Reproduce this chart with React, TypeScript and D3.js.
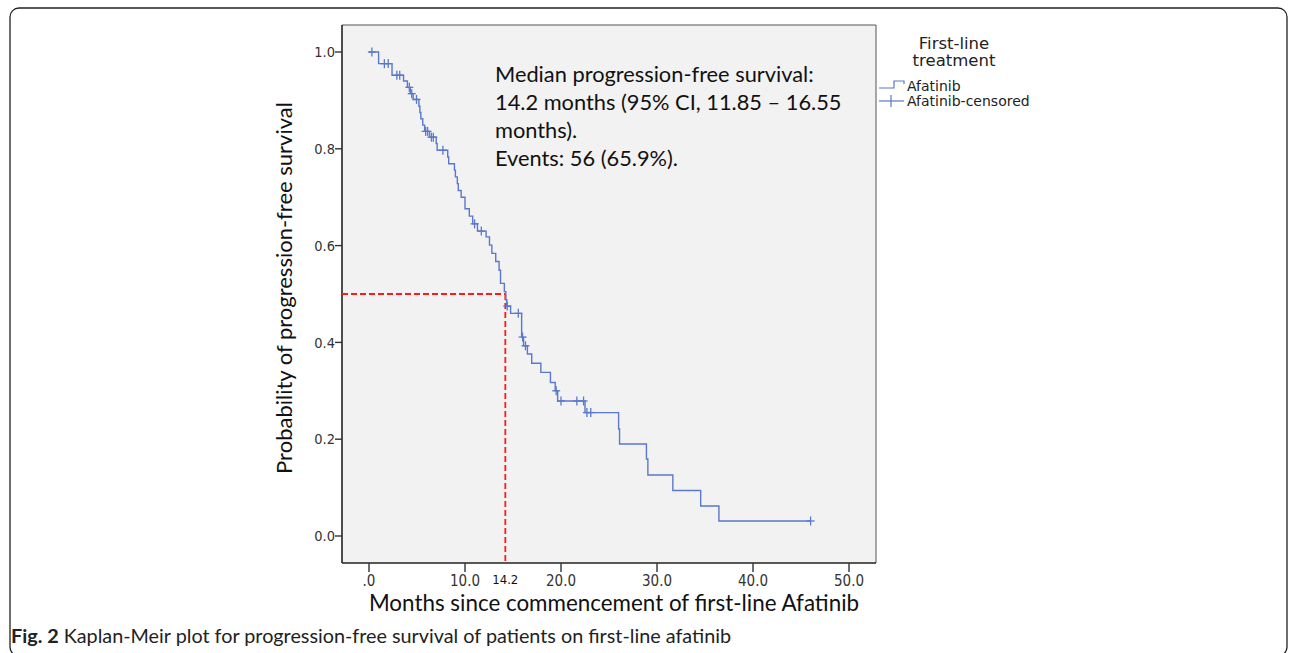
import React from "react";
import * as d3 from "d3";

// Kaplan–Meier step levels
const stepTimes = [0, 1.0, 2.4, 3.6, 4.0, 4.3, 4.6, 5.2, 5.3, 5.4, 5.6, 5.8, 6.3, 7.0, 7.1, 8.2, 8.3, 8.9, 9.0, 9.2, 9.3, 9.6, 10.0, 10.45, 10.8, 11.3, 12.2, 12.55, 12.8, 13.2, 13.55, 13.7, 14.1, 14.25, 14.35, 14.75, 15.9, 16.1, 16.5, 16.95, 17.9, 18.9, 19.4, 19.65, 22.5, 26.0, 26.1, 28.9, 29.05, 31.65, 34.55, 36.45, 46.0];
const stepSurv = [1.0, 0.976, 0.952, 0.94, 0.927, 0.914, 0.902, 0.888, 0.875, 0.862, 0.849, 0.836, 0.824, 0.811, 0.797, 0.783, 0.769, 0.756, 0.742, 0.728, 0.714, 0.7, 0.676, 0.661, 0.645, 0.63, 0.618, 0.601, 0.584, 0.567, 0.549, 0.522, 0.505, 0.488, 0.475, 0.46, 0.411, 0.393, 0.376, 0.357, 0.338, 0.317, 0.3, 0.279, 0.255, 0.221, 0.19, 0.159, 0.126, 0.094, 0.062, 0.031, 0.031];

const censorTimes = [0.3, 1.6, 2.0, 2.9, 3.2, 4.2, 4.45, 4.95, 5.9, 6.1, 6.5, 6.7, 7.7, 11.0, 11.7, 14.4, 15.55, 16.0, 16.3, 19.5, 20.0, 21.65, 22.35, 22.7, 23.1, 46.0];
const censorSurv = [1.0, 0.976, 0.976, 0.952, 0.952, 0.927, 0.914, 0.902, 0.836, 0.836, 0.824, 0.824, 0.797, 0.645, 0.63, 0.475, 0.46, 0.411, 0.393, 0.3, 0.279, 0.279, 0.279, 0.255, 0.255, 0.031];

const xTicks = [0, 10, 20, 30, 40, 50];
const xTickLabels = [".0", "10.0", "20.0", "30.0", "40.0", "50.0"];
const yTicks = [0, 0.2, 0.4, 0.6, 0.8, 1.0];
const yTickLabels = ["0.0", "0.2", "0.4", "0.6", "0.8", "1.0"];

const medianTime = 14.2;
const medianSurv = 0.5;

const annotationLines = [
  "Median progression-free survival:",
  "14.2 months (95% CI, 11.85 \u2013 16.55",
  "months).",
  "Events: 56 (65.9%).",
];

const W = 1292;
const H = 653;
const plot = { left: 342, right: 876, top: 25, bottom: 563 };
const curveColor = "#5a78cc";

export default function App() {
  const x = d3.scaleLinear().domain([-2.8125, 52.8125]).range([plot.left, plot.right]);
  const y = d3.scaleLinear().domain([-0.0558, 1.0558]).range([plot.bottom, plot.top]);

  const pts: [number, number][] = stepTimes.map((t, i) => [t, stepSurv[i]]);
  const line = d3
    .line<[number, number]>()
    .x((d) => x(d[0]))
    .y((d) => y(d[1]))
    .curve(d3.curveStepAfter);

  const tickFont = "'DejaVu Sans Condensed', 'DejaVu Sans', sans-serif";
  const mainFont = "Lato, 'Open Sans', sans-serif";
  const legFont = "'DejaVu Sans', sans-serif";

  return (
    <svg
      width={W}
      height={H}
      viewBox={`0 0 ${W} ${H}`}
      style={{ position: "absolute", left: 0, top: 0, background: "#fff" }}
    >
      {/* outer frame */}
      <rect x={10} y={8} width={1277} height={648} rx={9} ry={9} fill="none" stroke="#222" strokeWidth={1.3} />

      {/* plot background */}
      <rect x={plot.left} y={plot.top} width={plot.right - plot.left} height={plot.bottom - plot.top} fill="#f2f2f2" />
      <line x1={plot.left} x2={plot.right} y1={plot.top} y2={plot.top} stroke="#555" strokeWidth={1} />
      <line x1={plot.right} x2={plot.right} y1={plot.top} y2={plot.bottom} stroke="#555" strokeWidth={1} />
      <line x1={plot.left} x2={plot.left} y1={plot.top} y2={plot.bottom} stroke="#222" strokeWidth={1.6} />
      <line x1={plot.left} x2={plot.right} y1={plot.bottom} y2={plot.bottom} stroke="#222" strokeWidth={1.6} />

      {/* y ticks */}
      {yTicks.map((v, i) => (
        <g key={"yt" + i}>
          <line x1={plot.left - 7} x2={plot.left} y1={y(v)} y2={y(v)} stroke="#333" strokeWidth={1.4} />
          <text x={plot.left - 7} y={y(v)} dy="0.36em" textAnchor="end" fontFamily={tickFont} fontSize={14.5} fill="#333">
            {yTickLabels[i]}
          </text>
        </g>
      ))}
      {/* x ticks */}
      {xTicks.map((v, i) => (
        <g key={"xt" + i}>
          <line x1={x(v)} x2={x(v)} y1={plot.bottom} y2={plot.bottom + 9} stroke="#333" strokeWidth={1.4} />
          <text x={x(v)} y={plot.bottom + 23} textAnchor="middle" fontFamily={tickFont} fontSize={15} fill="#333">
            {xTickLabels[i]}
          </text>
        </g>
      ))}
      <text x={x(medianTime)} y={plot.bottom + 21} textAnchor="middle" fontFamily={tickFont} fontSize={13} fill="#111">
        {String(medianTime)}
      </text>

      {/* median reference lines */}
      <line x1={plot.left} x2={x(medianTime)} y1={y(medianSurv)} y2={y(medianSurv)} stroke="#ff1a1a" strokeWidth={1.8} strokeDasharray="6,3" />
      <line x1={x(medianTime)} x2={x(medianTime)} y1={y(medianSurv)} y2={plot.bottom} stroke="#ff1a1a" strokeWidth={1.8} strokeDasharray="6,3" />

      {/* KM curve */}
      <path d={line(pts) || ""} fill="none" stroke={curveColor} strokeWidth={1.4} />
      {censorTimes.map((t, i) => (
        <g key={"c" + i} stroke={curveColor} strokeWidth={1.3}>
          <line x1={x(t) - 4} x2={x(t) + 4} y1={y(censorSurv[i])} y2={y(censorSurv[i])} />
          <line x1={x(t)} x2={x(t)} y1={y(censorSurv[i]) - 4.5} y2={y(censorSurv[i]) + 4.5} />
        </g>
      ))}

      {/* annotation */}
      {annotationLines.map((s, i) => (
        <text key={"a" + i} x={495} y={82 + i * 28} fontFamily={mainFont} fontSize={21.8} fill="#111">
          {s}
        </text>
      ))}

      {/* axis titles */}
      <text x={614} y={611} textAnchor="middle" fontFamily={mainFont} fontSize={22.4} fill="#111">
        Months since commencement of first-line Afatinib
      </text>
      <text transform={`translate(292, 288) rotate(-90)`} textAnchor="middle" fontFamily={mainFont} fontSize={22} fill="#111">
        Probability of progression-free survival
      </text>

      {/* legend */}
      <text x={954} y={49} textAnchor="middle" fontFamily={legFont} fontSize={16.5} fill="#222">First-line</text>
      <text x={954} y={66} textAnchor="middle" fontFamily={legFont} fontSize={16.5} fill="#222">treatment</text>
      <path d="M879,88 L894,88 L894,81 L904,81 L904,84" fill="none" stroke={curveColor} strokeWidth={1.2} />
      <text x={907} y={91} fontFamily={legFont} fontSize={14} fill="#222">Afatinib</text>
      <line x1={879} x2={904} y1={101} y2={101} stroke={curveColor} strokeWidth={1.2} />
      <line x1={891} x2={891} y1={95} y2={107} stroke={curveColor} strokeWidth={1.2} />
      <text x={907} y={106} fontFamily={legFont} fontSize={14} fill="#222">Afatinib-censored</text>

      {/* caption */}
      <text x={11} y={643} fontFamily={mainFont} fontSize={19.8} fill="#222">
        <tspan fontWeight="bold">Fig. 2</tspan>
        <tspan> Kaplan-Meir plot for progression-free survival of patients on first-line afatinib</tspan>
      </text>
    </svg>
  );
}
